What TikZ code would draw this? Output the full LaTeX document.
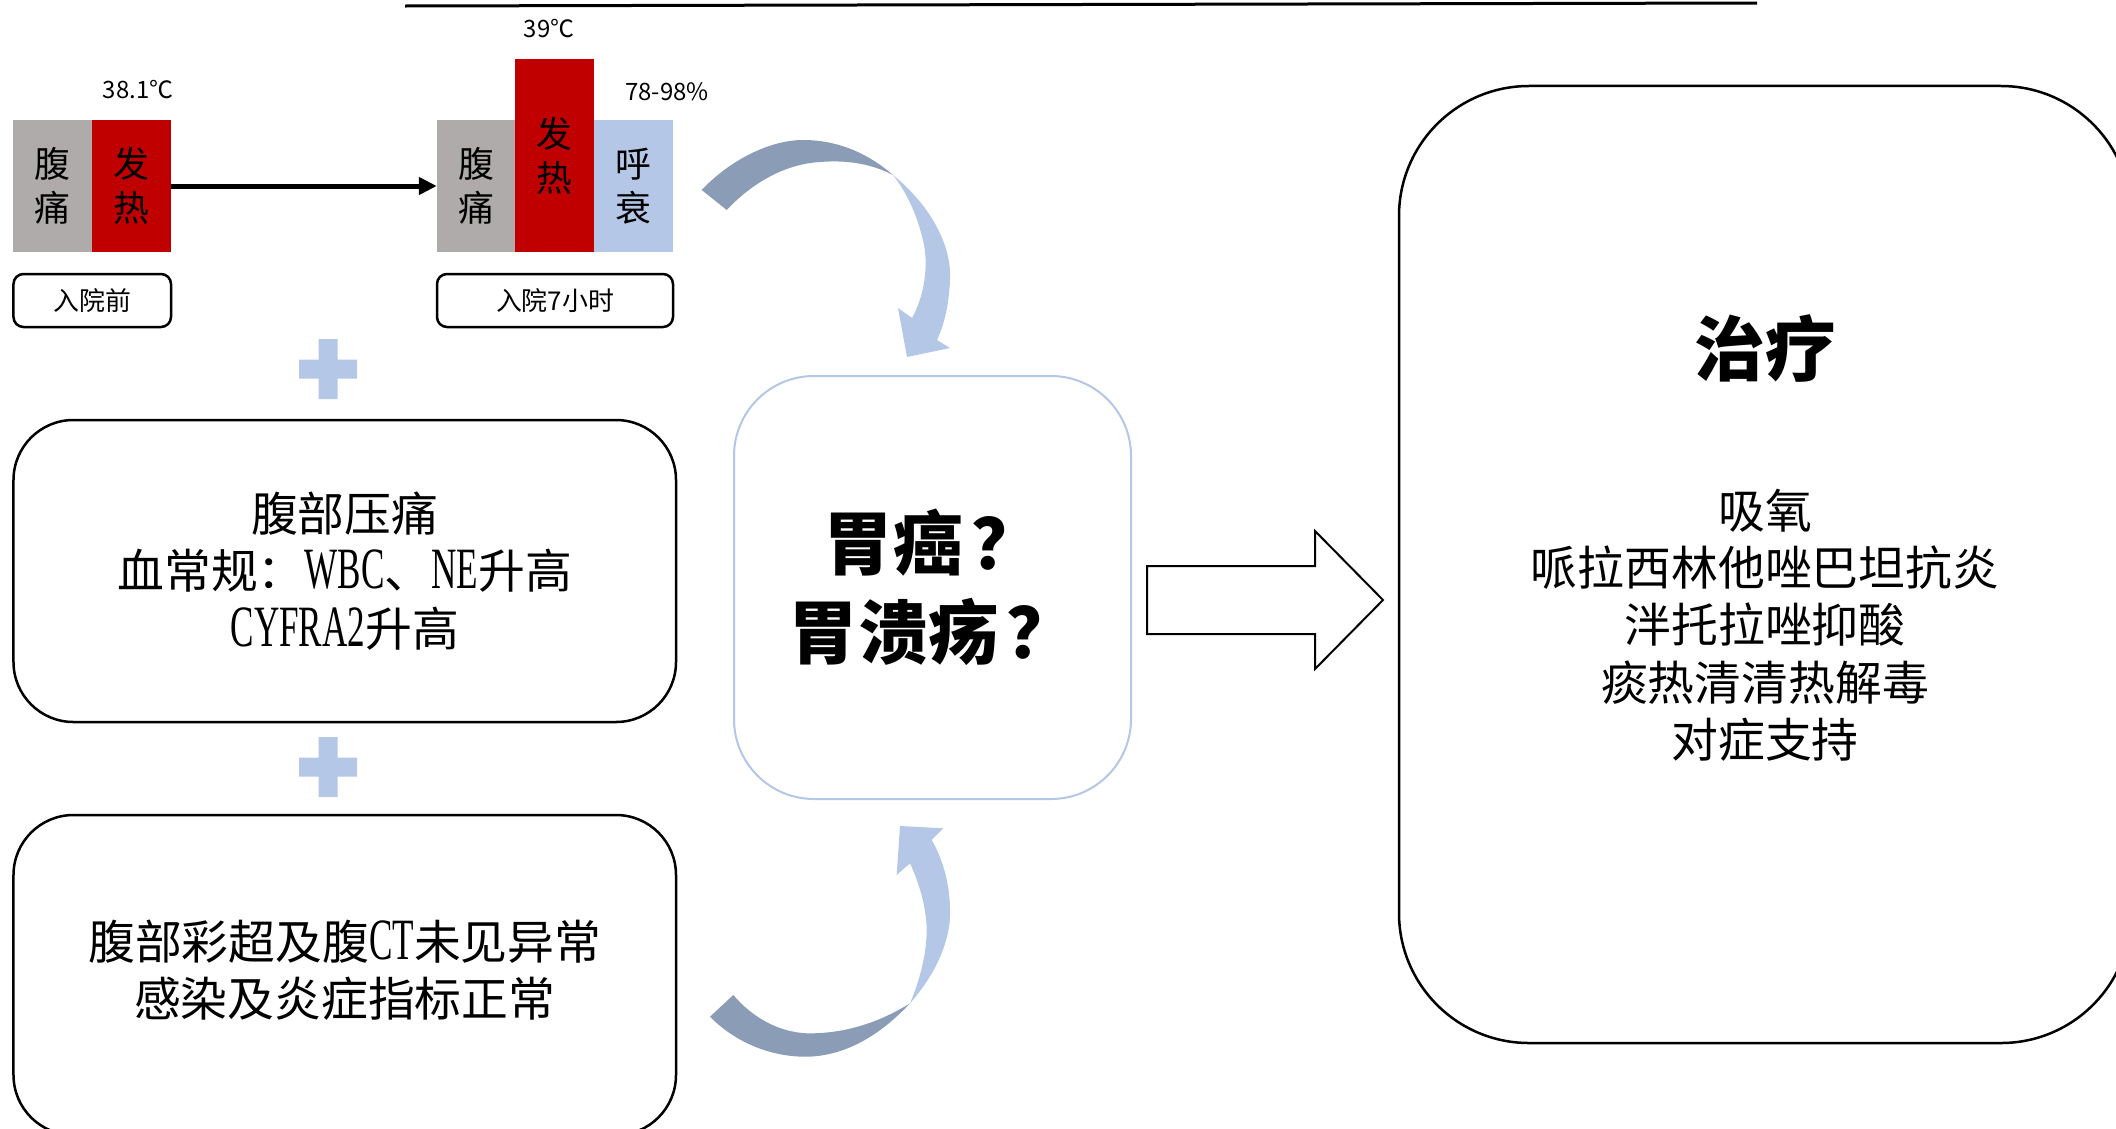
\documentclass[tikz,border=0pt]{standalone}
\usepackage{fontspec}
\setmainfont{Noto Sans CJK SC}
\newfontfamily\latc[Scale=1.25,FakeStretch=0.6]{Liberation Serif}
\usetikzlibrary{arrows.meta}
\definecolor{pgray}{HTML}{AFABAB}
\definecolor{pred}{HTML}{C00000}
\definecolor{pblue}{HTML}{B4C7E7}
\definecolor{pdark}{HTML}{8B9CB6}
\tikzset{
  barbox/.style={inner sep=0pt, align=center, font=\fontsize{36}{44}\selectfont},
  numtxt/.style={inner sep=0pt, font=\fontsize{24}{28}\selectfont},
  lblbox/.style={draw, line width=2.5bp, rounded corners=10bp, inner sep=0pt, font=\fontsize{26}{30}\selectfont},
  roundbox/.style={draw, line width=2.5bp, rounded corners=60bp, inner sep=0pt, align=center, font=\fontsize{47}{57.5}\selectfont},
  bodytxt/.style={inner sep=0pt, align=center, font=\fontsize{47}{57.5}\selectfont},
  diagbox/.style={draw=pblue, line width=2bp, rounded corners=80bp, inner sep=0pt, align=center, font=\bfseries\fontsize{70}{89}\selectfont},
  bigbox/.style={draw, line width=2.5bp, rounded corners=130bp, inner sep=0pt},
  plusfill/.style={fill=pblue},
}
\begin{document}
\begin{tikzpicture}[x=1bp, y=-1bp]
\useasboundingbox (0,0) rectangle (2116,1128);
% top line
\coordinate (tl1) at (405,6);
\coordinate (tl2) at (1757,3);
\draw[line width=3bp] (tl1) -- (tl2);
% numbers
\node[numtxt] (n1) at (138,90) {38.1℃};
\node[numtxt] (n2) at (549,29) {39℃};
\node[numtxt] (n3) at (667,92) {78-98\%};
% left bars
\node[barbox, fill=pgray, minimum width=78.5bp, minimum height=132bp] (g1) at (52.75,186) {腹\\痛};
\node[barbox, fill=pred, minimum width=79bp, minimum height=132bp] (r1) at (131.5,186) {发\\热};
% right bars
\node[barbox, fill=pgray, minimum width=78bp, minimum height=132bp] (g2) at (476,186) {腹\\痛};
\node[barbox, fill=pred, minimum width=79bp, minimum height=193bp] (r2) at (554.5,155.5) {发\\热};
\node[barbox, fill=pblue, minimum width=79bp, minimum height=132bp] (b2) at (633.5,186) {呼\\衰};
\draw[line width=5bp, -{Triangle[length=18bp,width=17bp]}] (r1.east) -- (g2.west);
% labels
\node[lblbox, minimum width=157.5bp, minimum height=53bp] (l1) at (92.25,300.5) {入院前};
\node[lblbox, minimum width=236bp, minimum height=53bp] (l2) at (555,300.5) {入院7小时};
% plus signs
\fill[plusfill] (318.5,339) rectangle (337.5,399) (299,359.5) rectangle (357,378.5);
\fill[plusfill] (318.5,737) rectangle (337.5,797) (299,757.5) rectangle (357,776.5);
% left boxes
\node[roundbox, minimum width=662.5bp, minimum height=302bp] (bx1) at (344.75,571) {腹部压痛\\血常规：{\latc WBC}、{\latc NE}升高\\{\latc CYFRA2}升高};
\node[roundbox, minimum width=662.5bp, minimum height=320bp] (bx2) at (344.75,975) {};
\node[bodytxt] (t2) at (344.75,970) {腹部彩超及腹{\latc CT}未见异常\\感染及炎症指标正常};
% center box
\node[diagbox, minimum width=397bp, minimum height=423bp] (dg) at (932.5,587.5) {胃癌\hspace{0.12em}？\\胃溃疡\hspace{0.12em}？};
% big arrow
\draw[line width=2bp, fill=white] (1147,566) -- (1315,566) -- (1315,531) -- (1383,600) -- (1315,669) -- (1315,634) -- (1147,634) -- cycle;
% right box
\node[bigbox, minimum width=732bp, minimum height=957bp] (rb) at (1765,564.5) {};
\node[inner sep=0pt, font=\bfseries\fontsize{71}{80}\selectfont] (rt) at (1765,348) {治疗};
\node[bodytxt] (rl) at (1765,625) {吸氧\\哌拉西林他唑巴坦抗炎\\泮托拉唑抑酸\\痰热清清热解毒\\对症支持};
% top curved arrow
\fill[pdark] (701.7,190) .. controls (730,160) and (770,140) .. (803,140)
  .. controls (840,140) and (870,155) .. (893,175)
  .. controls (870,163) and (845,160) .. (820,162)
  .. controls (785,164) and (752,183) .. (726.7,210) -- cycle;
\fill[pblue] (893,175) .. controls (930,205) and (952,245) .. (950,280)
  .. controls (949,305) and (944,325) .. (937,340)
  -- (950,348) -- (907,357) -- (898,308) -- (912,318)
  .. controls (925,295) and (928,265) .. (924,245)
  .. controls (918,215) and (905,190) .. (893,175) -- cycle;
% bottom curved arrow
\fill[pdark] (710,1016.7) .. controls (735,1042) and (770,1057) .. (806.7,1056.7)
  .. controls (850,1056) and (885,1030) .. (910,1003.3)
  .. controls (880,1022) and (845,1034) .. (806.7,1033.3)
  .. controls (778,1032) and (752,1017) .. (733.3,995) -- cycle;
\fill[pblue] (910,1003.3) .. controls (935,975) and (952,940) .. (950,906.7)
  .. controls (949,880) and (942,858) .. (931.7,840)
  -- (943.3,828.3) -- (900,826) -- (896.7,875) -- (910,863.3)
  .. controls (920,885) and (927,910) .. (926.7,933)
  .. controls (926,955) and (920,980) .. (910,1003.3) -- cycle;
\end{tikzpicture}
\end{document}
